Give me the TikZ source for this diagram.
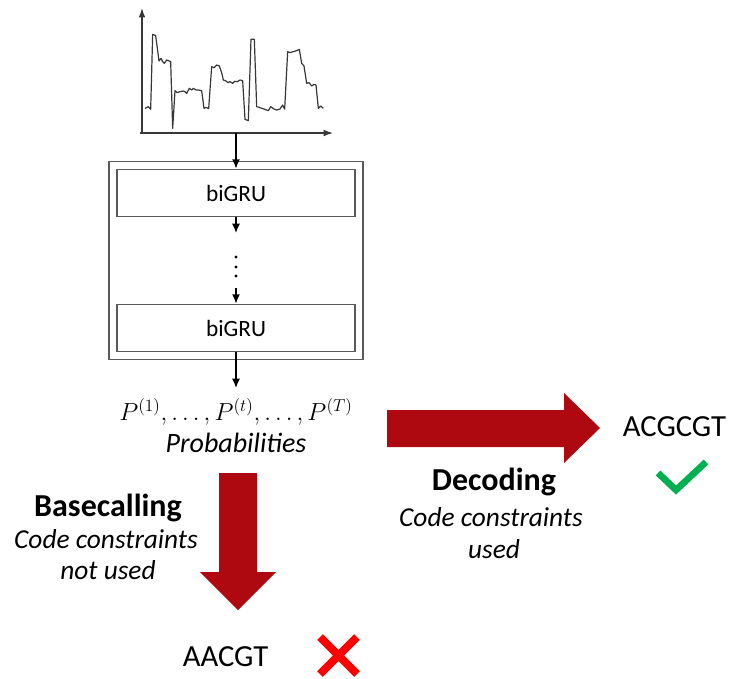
\RequirePackage{fix-cm}
\documentclass[tikz,border=0pt]{standalone}
\usepackage{fontspec}
\setmainfont{Carlito}
\usetikzlibrary{arrows.meta,fit}

\definecolor{blockred}{RGB}{174,8,16}
\definecolor{okgreen}{RGB}{0,176,80}
\definecolor{framegray}{RGB}{90,90,90}
\definecolor{tracegray}{RGB}{55,55,55}

\tikzset{
  layer/.style={draw=framegray, line width=1pt, rectangle,
    minimum width=178.5pt, minimum height=35.5pt, inner sep=0pt,
    font=\fontsize{17.5}{20}\selectfont},
  outerframe/.style={draw=framegray, line width=1pt, rectangle, inner sep=5.5pt},
  conn/.style={draw=black, line width=1.1pt, -{Latex[length=7pt,width=6pt]}},
  axis/.style={draw=tracegray, line width=0.9pt, -{Latex[length=7pt,width=5pt]}},
  trace/.style={draw=tracegray, line width=0.9pt, line join=round},
  blockarrow/.style={fill=blockred, draw=none},
  headline/.style={font=\fontsize{24}{28}\selectfont\bfseries, anchor=base},
  noteline/.style={font=\fontsize{20.5}{24}\selectfont\itshape, anchor=base},
  seqtext/.style={font=\fontsize{23}{27}\selectfont, anchor=base},
}

\begin{document}
\begin{tikzpicture}[x=0.75pt, y=-0.75pt]
\useasboundingbox (0,0) rectangle (734,678);

% current trace with its axes
\draw[axis] (140,133) -- (333,133);
\draw[axis] (142,134) -- (142,8);
\begin{scope}[shift={(120,0)}, scale=1/3]
\draw[trace] (75,325) -- (85,320) -- (92,328) -- (98,103) -- (107,107) -- (117,183)
  -- (123,175) -- (128,185) -- (133,190) -- (140,180) -- (148,183) -- (152,185)
  -- (158,385) -- (165,272) -- (172,278) -- (180,275) -- (190,273) -- (195,275)
  -- (200,280) -- (208,265) -- (215,270) -- (220,265) -- (228,270) -- (235,270)
  -- (245,272) -- (252,325) -- (258,322) -- (266,326) -- (275,200) -- (282,203)
  -- (290,195) -- (298,198) -- (305,218) -- (310,240) -- (318,243) -- (324,248)
  -- (330,245) -- (338,250) -- (344,244) -- (352,245) -- (360,240) -- (368,242)
  -- (375,358) -- (385,362) -- (393,118) -- (403,118) -- (410,320) -- (418,322)
  -- (425,325) -- (435,328) -- (445,332) -- (452,320) -- (462,327) -- (470,330)
  -- (480,327) -- (488,315) -- (494,327) -- (503,155) -- (510,158) -- (520,155)
  -- (530,152) -- (538,148) -- (545,190) -- (552,198) -- (560,250) -- (567,248)
  -- (575,258) -- (582,253) -- (588,255) -- (595,325) -- (602,318) -- (610,325);
\end{scope}
\coordinate (sigout) at (236,133);

% recurrent stack
\node[layer] (gru1) at (236,193) {biGRU};
\node[layer] (gru2) at (236,328) {biGRU};
\node[outerframe, fit=(gru1)(gru2)] (stack) {};

\coordinate (gapin) at (236,233);
\coordinate (gapout) at (236,288);
\foreach \yy in {257,267,276} \fill (236,\yy) circle[radius=1.2pt];

\draw[conn] (sigout) -- (gru1.north);
\draw[conn] (gru1.south) -- (gapin);
\draw[conn] (gapout) -- (gru2.north);

% output probabilities
\node[anchor=base, font=\fontsize{18.5}{22}\selectfont, inner sep=1pt] (probs) at (236,420)
  {$P^{(1)},\ldots,P^{(t)},\ldots,P^{(T)}$};
\node[anchor=base, font=\fontsize{21}{25}\selectfont\itshape] (problabel) at (236,452) {Probabilities};
\coordinate (probtop) at (236,388);
\draw[conn] (gru2.south) -- (probtop);

% decoding branch
\fill[blockarrow] (387,410) -- (564,410) -- (564,393) -- (600,428) -- (564,463)
  -- (564,447) -- (387,447) -- cycle;
\node[headline] (dechead) at (494,490) {Decoding};
\node[noteline] (decnote1) at (491,526) {Code constraints};
\node[noteline] (decnote2) at (494,558) {used};
\node[seqtext] (goodseq) at (674.5,436) {ACGCGT};
\draw[okgreen, line width=5pt, line cap=butt, line join=miter]
  (658,473) -- (676,490) -- (706,462);

% basecalling branch
\fill[blockarrow] (219,473) -- (257,473) -- (257,572) -- (276,572) -- (238,610)
  -- (200,572) -- (219,572) -- cycle;
\node[headline] (bchead) at (108,516) {Basecalling};
\node[noteline] (bcnote1) at (106,548) {Code constraints};
\node[noteline] (bcnote2) at (108,579) {not used};
\node[seqtext] (badseq) at (225.5,666) {AACGT};
\draw[red, line width=6pt] (320,637) -- (357,674) (357,637) -- (320,674);
\end{tikzpicture}
\end{document}
